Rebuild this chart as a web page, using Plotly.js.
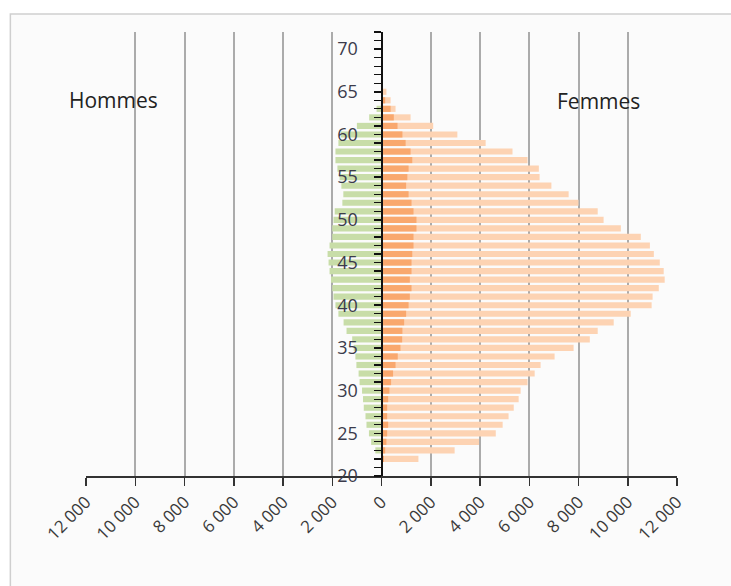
<!DOCTYPE html>
<html>
<head>
<meta charset="utf-8">
<script src="https://cdn.plot.ly/plotly-3.0.1.min.js"></script>
<style>html,body{margin:0;padding:0;background:#fff;}#chart{width:731px;height:586px;}</style>
</head>
<body>
<div id="chart"></div>
<script>
// Ages 22 .. 65
var ages = [22,23,24,25,26,27,28,29,30,31,32,33,34,35,36,37,38,39,40,41,42,43,44,45,46,47,48,49,50,51,52,53,54,55,56,57,58,59,60,61,62,63,64,65];
// Hommes (left, green)
var hommes = [0,250,420,510,610,650,720,750,790,890,930,1020,1060,1130,1190,1420,1540,1750,1870,1950,2000,2050,2110,2150,2190,2110,2000,2000,1950,1900,1590,1550,1630,1700,1790,1870,1870,1750,1650,1000,500,200,0,0];
// Femmes (right, light orange)
var femmes = [1500,2970,3960,4640,4920,5160,5370,5570,5650,5930,6220,6460,7030,7800,8460,8780,9430,10120,10970,11010,11260,11500,11460,11300,11060,10900,10530,9720,9020,8780,8000,7600,6900,6420,6390,5930,5320,4230,3080,2100,1180,570,370,200];
// Second series on right (dark orange)
var femmes2 = [100,150,200,230,270,230,230,270,320,390,470,570,660,770,840,850,920,1000,1100,1150,1220,1150,1220,1220,1250,1300,1300,1420,1420,1300,1220,1100,1000,1050,1100,1250,1180,980,850,650,500,370,150,0];

var tickVals = [-12000,-10000,-8000,-6000,-4000,-2000,0,2000,4000,6000,8000,10000,12000];
var tickText = ["12 000","10 000","8 000","6 000","4 000","2 000","0","2 000","4 000","6 000","8 000","10 000","12 000"];
var yTickVals = [20,25,30,35,40,45,50,55,60,65,70];

var hNeg = hommes.map(function(v){return -v;});

var traces = [
  {type:'bar', orientation:'h', y:ages, x:hNeg, name:'Hommes', marker:{color:'#C8DDA8'}, hoverinfo:'skip'},
  {type:'bar', orientation:'h', y:ages, x:femmes, name:'Femmes', marker:{color:'#FDD3B3'}, hoverinfo:'skip'},
  {type:'bar', orientation:'h', y:ages, x:femmes2, name:'Femmes 2', marker:{color:'#F9A86E'}, hoverinfo:'skip'}
];

var layout = {
  width:731, height:586,
  margin:{l:86, r:54, t:32, b:110},
  paper_bgcolor:'#ffffff',
  plot_bgcolor:'rgba(0,0,0,0)',
  barmode:'overlay',
  bargap:0.28,
  showlegend:false,
  font:{family:'Open Sans, Liberation Sans, Arial, sans-serif', color:'#404040'},
  xaxis:{
    range:[-12000,12000], tickvals:tickVals, ticktext:tickText,
    tickangle:-45, tickfont:{size:17, color:'#3a3a3a'},
    showgrid:true, gridcolor:'#ABABAB', gridwidth:2,
    zeroline:false, showline:true, linecolor:'#333333', linewidth:1.5,
    ticks:'outside', ticklen:8, tickcolor:'#333333', tickwidth:1.5,
    fixedrange:true
  },
  yaxis:{
    range:[20,72], anchor:'free', position:0.5, side:'left',
    tickvals:yTickVals, tickfont:{size:18, color:'#3b3b4b'},
    ticklabelstandoff:12,
    showgrid:false, zeroline:false, showline:true, linecolor:'#111111', linewidth:2,
    ticks:'outside', ticklen:7, tickcolor:'#111111', tickwidth:1.5,
    minor:{dtick:1, tick0:20, ticks:'outside', ticklen:7, tickcolor:'#111111', tickwidth:1.2},
    fixedrange:true
  },
  shapes:[
    {type:'rect', xref:'paper', yref:'paper', x0:-0.128, x1:1.2, y0:-0.26, y1:1.0405,
     line:{color:'#CFCFCF', width:1.5}, fillcolor:'#FBFBFB', layer:'below'}
  ],
  annotations:[
    {text:'Hommes', xref:'paper', yref:'paper', x:(113-86)/591, y:(476-100)/444, showarrow:false,
     font:{size:21, color:'#222222'}, xanchor:'center', yanchor:'middle'},
    {text:'Femmes', xref:'paper', yref:'paper', x:(598-86)/591, y:(476-101)/444, showarrow:false,
     font:{size:21, color:'#222222'}, xanchor:'center', yanchor:'middle'}
  ]
};

Plotly.newPlot('chart', traces, layout, {displayModeBar:false, staticPlot:true});
</script>
</body>
</html>
